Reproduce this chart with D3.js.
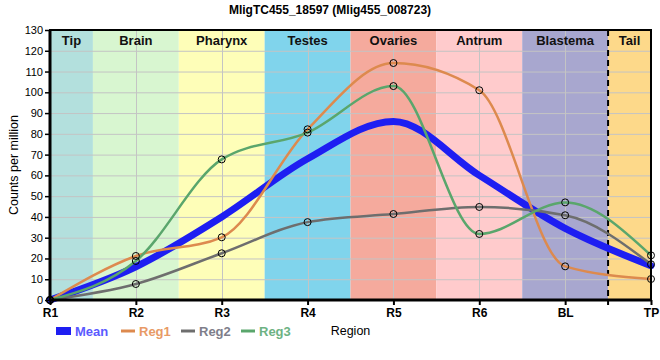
<!DOCTYPE html>
<html><head><meta charset="utf-8">
<script src="https://cdn.jsdelivr.net/npm/d3@7"></script>
<style>body{margin:0;background:#fff}svg{display:block;font-family:"Liberation Sans",Arial,sans-serif}</style>
</head><body><svg id="c" width="660" height="360"></svg>
<script>
const title = "MligTC455_18597 (Mlig455_008723)";
const categories = ["R1","R2","R3","R4","R5","R6","BL","TP"];
const regions = ["Tip","Brain","Pharynx","Testes","Ovaries","Antrum","Blastema","Tail"];
const regionColors = ["#b3e0dd","#d8f6d0","#fefeb8","#80d4ec","#f5aa9d","#ffcbcc","#a8a7cf","#fdd98a"];
const meanVals = [0, 16, 40, 68, 86, 60, 34.5, 16.5];
const reg1 = [0, 21.2, 30.2, 82.2, 114.1, 101, 16.2, 10.1];
const reg2 = [0, 7.7, 22.5, 37.5, 41.4, 44.8, 40.8, 17.2];
const reg3 = [0, 18.8, 67.7, 80.6, 103, 31.8, 47, 21.5];
const yTicks = d3.range(0, 131, 10);

const svg = d3.select("#c");
const L = 50, R = 651, T = 30, B = 300;
const x = d3.scalePoint().domain(categories).range([L, R]);
const y = d3.scaleLinear().domain([0, 130]).range([B, T]);
const step = x.step();

svg.append("text").attr("x", 330).attr("y", 14).attr("text-anchor", "middle")
  .attr("font-weight", "bold").attr("font-size", 12).text(title);

// region bands
const bands = regions.map((r, i) => {
  const c = x(categories[i]);
  const x0 = i === 0 ? L : c - step / 2;
  const x1 = i === regions.length - 1 ? R : c + step / 2;
  return {name: r, x0: i === 0 ? c : x0, x1: i === 0 ? c + step / 2 : (i === regions.length - 1 ? x(categories[i]) : x1), color: regionColors[i]};
});
// recompute: Tip from R1 to R1+step/2, Tail from BL+step/2 to TP
bands.forEach((b, i) => {
  if (i === 0) { b.x0 = x(categories[0]); b.x1 = x(categories[0]) + step / 2; }
  else if (i === regions.length - 1) { b.x0 = x(categories[i - 1]) + step / 2; b.x1 = x(categories[i]); }
  else { b.x0 = x(categories[i]) - step / 2; b.x1 = x(categories[i]) + step / 2; }
});
svg.append("g").selectAll("rect").data(bands).join("rect")
  .attr("x", d => d.x0).attr("y", T).attr("width", d => d.x1 - d.x0).attr("height", B - T)
  .attr("fill", d => d.color);

// grid
const grid = svg.append("g").attr("stroke", "#c4c4c4").attr("stroke-width", 1);
grid.selectAll("line.h").data(yTicks).join("line").attr("class", "h")
  .attr("x1", L).attr("x2", R).attr("y1", d => y(d) + 0.5).attr("y2", d => y(d) + 0.5);
grid.selectAll("line.v").data(categories).join("line").attr("class", "v")
  .attr("x1", d => Math.round(x(d)) + 0.5).attr("x2", d => Math.round(x(d)) + 0.5).attr("y1", T).attr("y2", B);

// region labels
svg.append("g").selectAll("text").data(bands).join("text")
  .attr("x", d => (d.x0 + d.x1) / 2).attr("y", 45).attr("text-anchor", "middle")
  .attr("font-weight", "bold").attr("font-size", 13).attr("fill", "#111").text(d => d.name);

// dashed separator before Tail
const sep = bands[bands.length - 1].x0;
svg.append("line").attr("x1", sep).attr("x2", sep).attr("y1", T).attr("y2", B + 5)
  .attr("stroke", "#000").attr("stroke-width", 2).attr("stroke-dasharray", "6,4");

// lines
const line = d3.line().x((d, i) => x(categories[i])).y(d => y(d)).curve(d3.curveMonotoneX);
const series = [
  {name: "Mean", vals: meanVals, color: "#1e1ef2", w: 7, text: "#5a5aff", marker: false},
  {name: "Reg1", vals: reg1, color: "#dd8a4e", w: 2.5, text: "#e89a66", marker: true},
  {name: "Reg2", vals: reg2, color: "#6e6e6e", w: 2.5, text: "#7e7e8a", marker: true},
  {name: "Reg3", vals: reg3, color: "#5aa66c", w: 2.5, text: "#6db283", marker: true}
];
series.forEach(s => {
  svg.append("path").attr("d", line(s.vals)).attr("fill", "none")
    .attr("stroke", s.color).attr("stroke-width", s.w).attr("stroke-linecap", "round");
});
series.filter(s => s.marker).forEach(s => {
  svg.append("g").selectAll("circle").data(s.vals).join("circle")
    .attr("cx", (d, i) => x(categories[i])).attr("cy", d => y(d)).attr("r", 3.5)
    .attr("fill", "none").attr("stroke", "#000").attr("stroke-width", 1);
});

// axes
const yAxis = svg.append("g").attr("transform", `translate(${L},0)`)
  .call(d3.axisLeft(y).tickValues(yTicks).tickSize(5).tickPadding(2));
yAxis.select(".domain").remove();
yAxis.selectAll("text").attr("font-size", 11).attr("fill", "#000").attr("font-family", "Liberation Sans, Arial, sans-serif");
yAxis.selectAll("line").attr("stroke", "#000").attr("stroke-width", 1.5);

const xAxis = svg.append("g").attr("transform", `translate(0,${B})`)
  .call(d3.axisBottom(x).tickSize(5).tickPadding(3));
xAxis.select(".domain").remove();
xAxis.selectAll("text").attr("font-size", 12).attr("font-weight", "bold").attr("fill", "#000")
  .attr("font-family", "Liberation Sans, Arial, sans-serif");
xAxis.selectAll("line").attr("stroke", "#000").attr("stroke-width", 2);

// frame
svg.append("rect").attr("x", L).attr("y", T).attr("width", R - L).attr("height", B - T)
  .attr("fill", "none").attr("stroke", "#000").attr("stroke-width", 2);
svg.append("line").attr("x1", L).attr("x2", L).attr("y1", T).attr("y2", B + 1).attr("stroke", "#000").attr("stroke-width", 3);
svg.append("line").attr("x1", L - 1).attr("x2", R + 1).attr("y1", B).attr("y2", B).attr("stroke", "#000").attr("stroke-width", 3);

// y title
svg.append("text").attr("transform", `translate(18,${(T + B) / 2}) rotate(-90)`)
  .attr("text-anchor", "middle").attr("font-size", 12.5).text("Counts per million");
// x title
svg.append("text").attr("x", (L + R) / 2).attr("y", 335).attr("text-anchor", "middle")
  .attr("font-size", 12.5).text("Region");

// legend
const legX = [56, 121, 181, 241];
series.forEach((s, i) => {
  const g = svg.append("g").attr("transform", `translate(${legX[i]},331)`);
  if (s.name === "Mean") {
    g.append("rect").attr("x", 0).attr("y", -4).attr("width", 15).attr("height", 8).attr("fill", s.color);
  } else {
    g.append("line").attr("x1", 0).attr("x2", 14).attr("y1", 0).attr("y2", 0).attr("stroke", s.color).attr("stroke-width", 3);
  }
  g.append("text").attr("x", s.name === "Mean" ? 19 : 18).attr("y", 4.5).attr("font-size", 13)
    .attr("font-weight", "bold").attr("fill", s.text).text(s.name);
});
</script></body></html>
